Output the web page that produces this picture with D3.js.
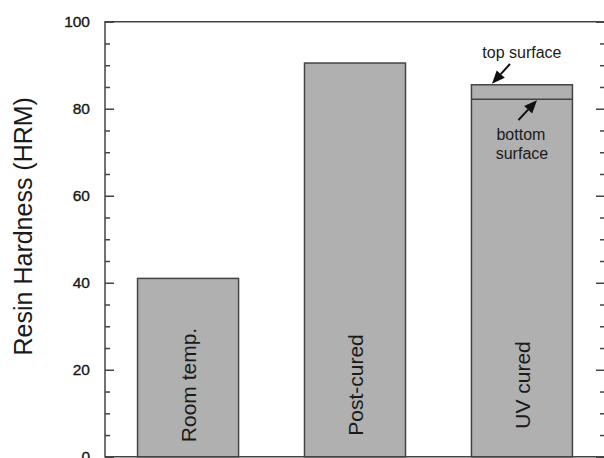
<!DOCTYPE html>
<html><head><meta charset="utf-8">
<script src="https://cdn.jsdelivr.net/npm/d3@7"></script>
<style>body{margin:0;background:#fff}svg{display:block}text{font-family:"Liberation Sans",Arial,sans-serif;fill:#1a1a1a}</style>
</head><body><svg id="c" width="604" height="458"></svg>
<script>
const categories = ["Room temp.", "Post-cured", "UV cured"];
const hardness = [41.0, 90.5, 85.5];          // top surface hardness (HRM)
const bottomSurface = [null, null, 82.2];       // bottom surface hardness (HRM)
const majorTicks = [0, 20, 40, 60, 80, 100];
const minorTicks = [5,10,15,25,30,35,45,50,55,65,70,75,85,90,95];
const yTitle = "Resin Hardness (HRM)";
const annTop = "top surface";
const annBottom = ["bottom", "surface"];

const svg = d3.select("#c");
const L = 105, R = 605, T = 21.7, B = 456.8;
const x = d3.scaleBand().domain(categories).range([L, R]).paddingInner(0.395).paddingOuter(0.195);
const y = d3.scaleLinear().domain([0, 100]).range([B, T]);
const ink = "#444";

svg.selectAll("rect.bar").data(categories).join("rect")
  .attr("class","bar")
  .attr("x", d => x(d)).attr("width", x.bandwidth())
  .attr("y", (d,i) => y(hardness[i])).attr("height", (d,i) => y(0) - y(hardness[i]))
  .attr("fill", "#b0b0b0").attr("stroke", ink).attr("stroke-width", 1.5);

categories.forEach((c,i) => {
  if (bottomSurface[i] != null) {
    svg.append("line").attr("x1", x(c)).attr("x2", x(c)+x.bandwidth())
      .attr("y1", y(bottomSurface[i])).attr("y2", y(bottomSurface[i]))
      .attr("stroke", ink).attr("stroke-width", 1.5);
  }
});

svg.selectAll("text.blab").data(categories).join("text")
  .attr("class","blab")
  .attr("transform", d => `translate(${x(d)+x.bandwidth()/2},385) rotate(-90)`)
  .attr("text-anchor","middle").attr("dy","0.36em")
  .attr("font-size", 21).text(d => d);

const gl = svg.append("g").attr("transform", `translate(${L},0)`);
gl.call(d3.axisLeft(y).tickValues(majorTicks).tickSize(-9).tickPadding(15).tickFormat(d3.format("d")));
const glm = svg.append("g").attr("transform", `translate(${L},0)`);
glm.call(d3.axisLeft(y).tickValues(minorTicks).tickSize(-5).tickFormat(""));
const gr = svg.append("g").attr("transform", `translate(${R},0)`);
gr.call(d3.axisRight(y).tickValues(majorTicks).tickSize(-9).tickFormat(""));
const grm = svg.append("g").attr("transform", `translate(${R},0)`);
grm.call(d3.axisRight(y).tickValues(minorTicks).tickSize(-5).tickFormat(""));
svg.selectAll(".domain").remove();
svg.selectAll(".tick line").attr("stroke", ink).attr("stroke-width", 1.5);
gl.selectAll(".tick text").attr("font-size", 15.5).attr("fill", "#111")
  .attr("stroke", "#111").attr("stroke-width", 0.35)
  .attr("font-family", '"Liberation Sans",Arial,sans-serif');

svg.append("path").attr("d", `M${L},${B}V${T}H${R}V${B}Z`)
  .attr("fill","none").attr("stroke", ink).attr("stroke-width", 1.5);

svg.append("text").attr("transform", `translate(31.5,${(T+B)/2 - 13}) rotate(-90)`)
  .attr("text-anchor","middle").attr("font-size", 25).text(yTitle);

const cUV = x("UV cured") + x.bandwidth()/2;
svg.append("text").attr("x", cUV).attr("y", 58).attr("text-anchor","middle").attr("font-size",16).text(annTop);
svg.append("text").attr("x", cUV - 1).attr("y", 140).attr("text-anchor","middle").attr("font-size",16).text(annBottom[0]);
svg.append("text").attr("x", cUV).attr("y", 159).attr("text-anchor","middle").attr("font-size",16).text(annBottom[1]);

function arrow(x1,y1,x2,y2){
  const ang = Math.atan2(y2-y1, x2-x1), hl = 13, hw = 5.5;
  const bx = x2 - hl*Math.cos(ang), by = y2 - hl*Math.sin(ang);
  svg.append("line").attr("x1",x1).attr("y1",y1).attr("x2",bx).attr("y2",by).attr("stroke","#111").attr("stroke-width",2);
  const px = -Math.sin(ang)*hw, py = Math.cos(ang)*hw;
  svg.append("path").attr("d", `M${x2},${y2}L${bx+px},${by+py}L${bx-px},${by-py}Z`).attr("fill","#111");
}
arrow(510, 64, 492, y(hardness[2]) - 1);
arrow(518.5, 120, 537, y(bottomSurface[2]) + 1);
</script></body></html>
